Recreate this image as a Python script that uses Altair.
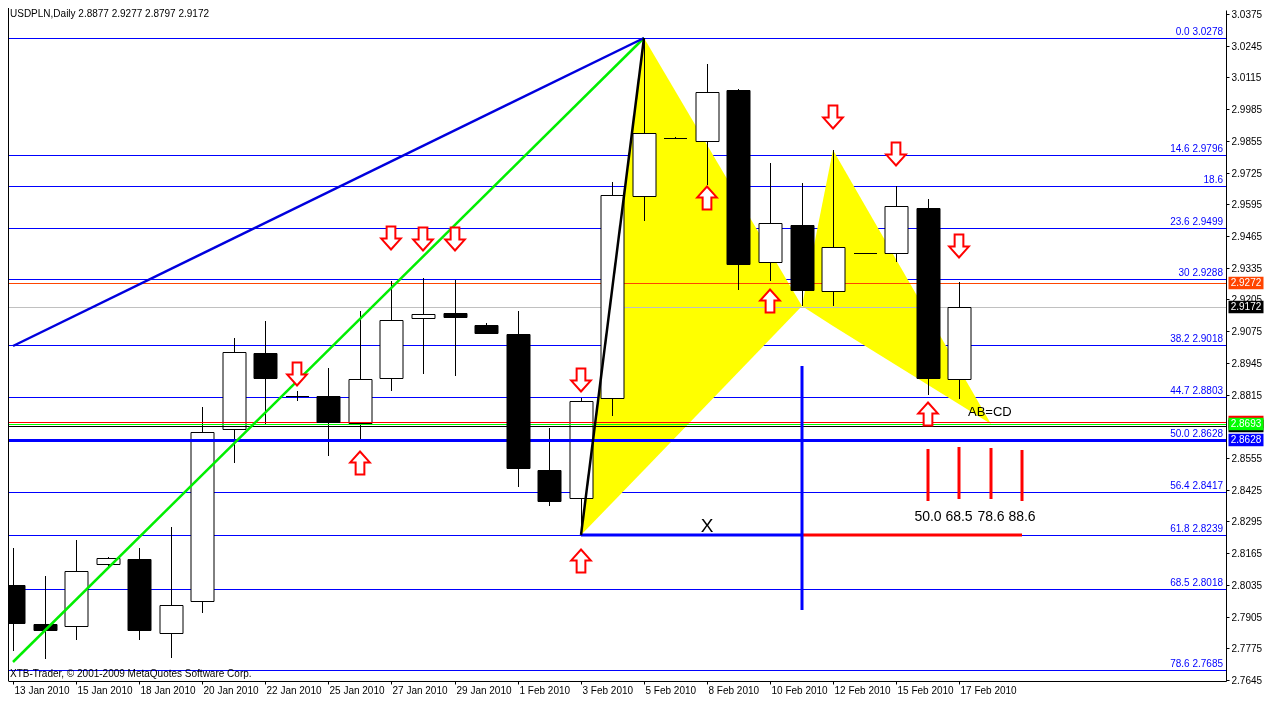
import altair as alt
import pandas as pd

# ---------------- data ----------------
dates = ["13 Jan 2010", "14 Jan 2010", "15 Jan 2010", "17 Jan 2010", "18 Jan 2010", "19 Jan 2010",
         "20 Jan 2010", "21 Jan 2010", "22 Jan 2010", "24 Jan 2010", "25 Jan 2010", "26 Jan 2010",
         "27 Jan 2010", "28 Jan 2010", "29 Jan 2010", "31 Jan 2010", "1 Feb 2010", "2 Feb 2010",
         "3 Feb 2010", "4 Feb 2010", "5 Feb 2010", "7 Feb 2010", "8 Feb 2010", "9 Feb 2010",
         "10 Feb 2010", "11 Feb 2010", "12 Feb 2010", "14 Feb 2010", "15 Feb 2010", "16 Feb 2010",
         "17 Feb 2010"]
opens = [2.8036, 2.7875, 2.7867, 2.8121, 2.8141, 2.7839, 2.7968, 2.8673, 2.8984, 2.8811, 2.8811,
         2.8698, 2.8883, 2.9129, 2.9149, 2.9101, 2.9065, 2.8504, 2.8391, 2.8802, 2.9629, 2.9867,
         2.9855, 3.0065, 2.9359, 2.9508, 2.9238, 2.9395, 2.9395, 2.9581, 2.8877]
highs = [2.8186, 2.8073, 2.8218, 2.8149, 2.8186, 2.8274, 2.8766, 2.9048, 2.9117, 2.8831, 2.8923,
         2.9157, 2.9282, 2.9294, 2.9286, 2.9109, 2.9157, 2.8677, 2.8802, 2.9685, 3.0278, 2.9869,
         3.0169, 3.0069, 2.9766, 2.9682, 2.9819, 2.9397, 2.9669, 2.9617, 2.9277]
lows = [2.7762, 2.7730, 2.7811, 2.8101, 2.7807, 2.7734, 2.7919, 2.8536, 2.8694, 2.8790, 2.8565,
        2.8621, 2.8831, 2.8899, 2.8891, 2.9065, 2.8436, 2.8359, 2.8239, 2.8726, 2.9528, 2.9865,
        2.9673, 2.9242, 2.9282, 2.9177, 2.9177, 2.9393, 2.9359, 2.8815, 2.8797]
closes = [2.7879, 2.7851, 2.8093, 2.8145, 2.7851, 2.7952, 2.8661, 2.8988, 2.8883, 2.8809, 2.8702,
          2.8879, 2.9121, 2.9145, 2.9133, 2.9069, 2.8512, 2.8379, 2.8790, 2.9633, 2.9887, 2.9867,
          3.0056, 2.9351, 2.9520, 2.9242, 2.9419, 2.9395, 2.9589, 2.8883, 2.9172]

fib_levels = [3.0278, 2.9796, 2.9669, 2.9499, 2.9288, 2.9018, 2.8803, 2.8628, 2.8417, 2.8239,
              2.8018, 2.7685]
fib_labels = ["0.0 3.0278", "14.6 2.9796", "18.6", "23.6 2.9499", "30 2.9288", "38.2 2.9018",
              "44.7 2.8803", "50.0 2.8628", "56.4 2.8417", "61.8 2.8239", "68.5 2.8018",
              "78.6 2.7685"]

price_ticks = [2.7645, 2.7775, 2.7905, 2.8035, 2.8165, 2.8295, 2.8425, 2.8555, 2.8815,
               2.8945, 2.9075, 2.9205, 2.9335, 2.9465, 2.9595, 2.9725, 2.9855, 2.9985, 3.0115,
               3.0245, 3.0375]
date_tick_idx = [0, 2, 4, 6, 8, 10, 12, 14, 16, 18, 20, 22, 24, 26, 28, 30]

orange_level = 2.9272
gray_level = 2.9172
red_level = 2.8702
green_level = 2.8693
black_level = 2.8685
blue_level = 2.8628

# harmonic pattern triangles (vertex bar index, vertex price)
tri1_i = [18, 20, 25]
tri1_p = [2.8239, 3.0278, 2.9177]
tri2_i = [25, 26, 31]
tri2_p = [2.9177, 2.9819, 2.8693]

blue_trend_i = [0, 20]
blue_trend_p = [2.9014, 3.0278]
green_trend_i = [0, 20]
green_trend_p = [2.7718, 3.0278]
xa_i = [18, 20]
xa_p = [2.8239, 3.0278]

x_blue_i = [18, 25]
x_red_i = [25, 32]
x_level = 2.8239
vline_i = [25]
vline_top = [2.8931]
vline_bot = [2.7931]

proj_i = [29, 30, 31, 32]
proj_top = [2.8593, 2.8601, 2.8597, 2.8589]
proj_bot = [2.8379, 2.8387, 2.8387, 2.8379]
proj_labels = ["50.0", "68.5", "78.6", "88.6"]
proj_label_p = 2.8315

up_i = [11, 18, 22, 24, 29]
up_p = [2.8536, 2.8133, 2.9621, 2.9198, 2.8734]
down_i = [9, 12, 13, 14, 18, 26, 28, 30]
down_p = [2.8899, 2.9456, 2.9452, 2.9452, 2.8875, 2.9952, 2.9802, 2.9423]

x_text_i, x_text_p = [22], [2.8278]
abcd_i, abcd_p = [30.28], [2.8742]

copyright_text = "XTB-Trader, \u00a9 2001-2009 MetaQuotes Software Corp."
header_text = "USDPLN,Daily  {:.4f} {:.4f} {:.4f} {:.4f}".format(opens[-1], highs[-1], lows[-1], closes[-1])

# ---------------- layout / style ----------------
W, H = 1218, 671
FONT = "Liberation Sans"
FS = 10
BLUE = "#0000ff"

XS = alt.Scale(domain=[0, 38.3], nice=False, zero=False, round=True)
YS = alt.Scale(domain=[2.7641, 3.0391], nice=False, zero=False, round=True)

label_expr = "[" + ",".join("'" + d + "'" for d in dates) + "][datum.value]"
XAXIS = alt.Axis(values=date_tick_idx, labelExpr=label_expr, orient="bottom", title=None,
                 grid=False, labelAlign="left", labelBaseline="top", labelFont=FONT, labelFontSize=FS,
                 labelColor="black", tickColor="black", tickSize=3, domainColor="black",
                 labelOverlap=False, labelFlush=False, labelPadding=1, labelOffset=1)
YAXIS = alt.Axis(values=price_ticks, format=".4f", orient="right", title=None, grid=False,
                 labelFont=FONT, labelFontSize=FS, labelColor="black", tickColor="black",
                 tickSize=3, domainColor="black", labelPadding=2, labelOverlap=False,
                 labelFlush=False)


def xq(f):
    return alt.X(f, type="quantitative", scale=XS, axis=XAXIS)


def yq(f):
    return alt.Y(f, type="quantitative", scale=YS, axis=YAXIS)


candles = pd.DataFrame({"i": list(range(len(dates))), "d": dates, "o": opens, "h": highs,
                        "l": lows, "c": closes})

layers = []

# fib lines
fib_df = pd.DataFrame({"p": fib_levels, "label": fib_labels})
layers.append(alt.Chart(fib_df).mark_rule(color=BLUE, strokeWidth=1, yOffset=0.5).encode(y=yq("p")))


# yellow triangles
def tri_rows(name, xs, ps):
    x0, x1, x2 = xs
    p0, p1, p2 = ps
    chord = p0 + (p2 - p0) * (x1 - x0) / (x2 - x0)
    return [dict(t=name, i=x0, top=p0, bot=p0), dict(t=name, i=x1, top=p1, bot=chord),
            dict(t=name, i=x2, top=p2, bot=p2)]


tri_df = pd.DataFrame(tri_rows("a", tri1_i, tri1_p) + tri_rows("b", tri2_i, tri2_p))
layers.append(alt.Chart(tri_df).mark_area(color="#ffff00", opacity=1, blend="multiply",
                                          interpolate="linear", clip=True)
              .encode(x=xq("i"), y=yq("top"), y2="bot", detail="t:N"))


def hline(p, color, width):
    return (alt.Chart(pd.DataFrame({"p": [p]}))
            .mark_rule(color=color, strokeWidth=width, yOffset=0.5).encode(y=yq("p")))


layers.append(hline(orange_level, "#ff4500", 1))
layers.append(hline(gray_level, "#c0c0c0", 1))

# wicks
layers.append(alt.Chart(candles).mark_rule(color="black", strokeWidth=1, xOffset=0.5, clip=True)
              .encode(x=xq("i"), y=yq("l"), y2="h"))
# white bodies
layers.append(alt.Chart(candles).transform_filter("datum.c >= datum.o")
              .mark_bar(size=23, fill="white", stroke="black", strokeWidth=1, opacity=1, clip=True,
                        xOffset=0.5, yOffset=0.5, y2Offset=0.5)
              .encode(x=xq("i"), y=yq("o"), y2="c"))

layers.append(hline(red_level, "#ff0000", 1))
layers.append(hline(green_level, "#00ff00", 1))
layers.append(hline(black_level, "black", 1))
layers.append(hline(blue_level, BLUE, 3))

# black bodies
layers.append(alt.Chart(candles).transform_filter("datum.c < datum.o")
              .mark_bar(size=23, fill="black", stroke="black", strokeWidth=1, opacity=1, clip=True,
                        xOffset=0.5, yOffset=0.5, y2Offset=0.5)
              .encode(x=xq("i"), y=yq("o"), y2="c"))


def seg(xs, ps, color, width):
    d = pd.DataFrame({"i": xs, "p": ps})
    return alt.Chart(d).mark_line(color=color, strokeWidth=width, clip=True).encode(x=xq("i"), y=yq("p"))


# X line and projection
layers.append(seg(x_blue_i, [x_level, x_level], BLUE, 3))
layers.append(seg(x_red_i, [x_level, x_level], "#ff0000", 3))
layers.append(alt.Chart(pd.DataFrame({"i": vline_i, "a": vline_top, "b": vline_bot}))
              .mark_rule(color=BLUE, strokeWidth=3).encode(x=xq("i"), y=yq("a"), y2="b"))
proj_df = pd.DataFrame({"i": proj_i, "a": proj_top, "b": proj_bot, "t": proj_labels,
                        "lp": [proj_label_p] * len(proj_i)})
layers.append(alt.Chart(proj_df).mark_rule(color="#ff0000", strokeWidth=3)
              .encode(x=xq("i"), y=yq("a"), y2="b"))
layers.append(alt.Chart(proj_df).mark_text(font=FONT, fontSize=14, color="black", align="center",
                                           baseline="middle")
              .encode(x=xq("i"), y=yq("lp"), text="t:N"))

# trend lines
layers.append(seg(green_trend_i, green_trend_p, "#00ee00", 2.5))
layers.append(seg(blue_trend_i, blue_trend_p, "#0000dd", 2.5))
layers.append(seg(xa_i, xa_p, "black", 2.5))

# arrows
UP = "M0,-1L0.85,-0.05L0.38,-0.05L0.38,1L-0.38,1L-0.38,-0.05L-0.85,-0.05Z"
DOWN = "M0,1L0.85,0.05L0.38,0.05L0.38,-1L-0.38,-1L-0.38,0.05L-0.85,0.05Z"
layers.append(alt.Chart(pd.DataFrame({"i": up_i, "p": up_p}))
              .mark_point(shape=UP, size=529, filled=True, fill="white", stroke="#ff0000",
                          strokeWidth=2, opacity=1)
              .encode(x=xq("i"), y=yq("p")))
layers.append(alt.Chart(pd.DataFrame({"i": down_i, "p": down_p}))
              .mark_point(shape=DOWN, size=529, filled=True, fill="white", stroke="#ff0000",
                          strokeWidth=2, opacity=1)
              .encode(x=xq("i"), y=yq("p")))

# texts
layers.append(alt.Chart(pd.DataFrame({"i": x_text_i, "p": x_text_p, "t": ["X"]}))
              .mark_text(font=FONT, fontSize=19, color="black", align="center", baseline="middle")
              .encode(x=xq("i"), y=yq("p"), text="t:N"))
layers.append(alt.Chart(pd.DataFrame({"i": abcd_i, "p": abcd_p, "t": ["AB=CD"]}))
              .mark_text(font=FONT, fontSize=13, color="black", align="left", baseline="middle")
              .encode(x=xq("i"), y=yq("p"), text="t:N"))

# fib labels
layers.append(alt.Chart(fib_df).mark_text(font=FONT, fontSize=FS, color=BLUE, align="right",
                                          baseline="bottom", dy=-1)
              .encode(x=alt.value(W - 3), y=yq("p"), text="label:N"))

# price boxes on right axis
BOX = "M-1,-0.36L1,-0.36L1,0.36L-1,0.36Z"


def price_box(p, color, show):
    d = pd.DataFrame({"p": [p], "t": ["{:.4f}".format(p)]})
    out = [alt.Chart(d).mark_point(shape=BOX, size=1225, filled=True, fill=color, strokeWidth=0,
                                   opacity=1)
           .encode(x=alt.value(W + 20), y=yq("p"))]
    if show:
        out.append(alt.Chart(d).mark_text(font=FONT, fontSize=FS, color="white", align="center",
                                          baseline="middle")
                   .encode(x=alt.value(W + 20), y=yq("p"), text="t:N"))
    return out


layers += price_box(orange_level, "#ff4500", True)
layers += price_box(gray_level, "black", True)
layers += price_box(red_level, "#ff0000", False)
layers += price_box(black_level, "black", False)
layers += price_box(green_level, "#00ff00", True)
layers += price_box(blue_level, BLUE, True)

# header and copyright
layers.append(alt.Chart(pd.DataFrame({"t": [header_text]}))
              .mark_text(font=FONT, fontSize=FS, color="black", align="left", baseline="middle")
              .encode(x=alt.value(2), y=alt.value(4), text="t:N"))
layers.append(alt.Chart(pd.DataFrame({"t": [copyright_text]}))
              .mark_text(font=FONT, fontSize=FS, color="black", align="left", baseline="middle")
              .encode(x=alt.value(2), y=alt.value(H - 7), text="t:N"))

# left frame
layers.append(alt.Chart(pd.DataFrame({"t": [0]})).mark_rule(color="black", strokeWidth=1)
              .encode(x=alt.value(0.5), y=alt.value(-2), y2=alt.value(H)))

chart = (alt.layer(*layers)
         .properties(width=W, height=H, background="white",
                     padding={"left": 0, "top": 2, "right": 40, "bottom": 17},
                     autosize=alt.AutoSizeParams(type="none"))
         .configure_view(stroke=None))

chart.save("out.html", embed_options={"renderer": "svg", "actions": False})
